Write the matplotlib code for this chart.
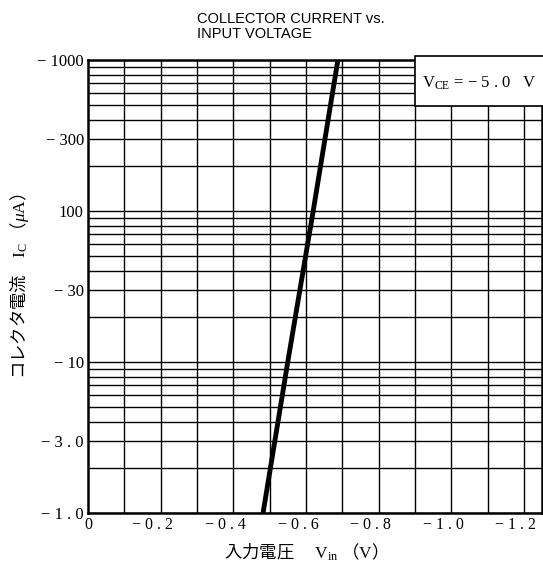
import numpy as np
import matplotlib
matplotlib.use("Agg")
import matplotlib.pyplot as plt
from matplotlib.patches import Rectangle
from matplotlib.transforms import ScaledTranslation

# Data
vin = [-0.482, -0.55, -0.62, -0.688]          # V
ic = [-1.0, -10.0, -100.0, -1000.0]            # uA
xticks = [0, -0.2, -0.4, -0.6, -0.8, -1.0, -1.2]
xticklabels = ["0", "− 0 . 2", "− 0 . 4", "− 0 . 6", "− 0 . 8", "− 1 . 0", "− 1 . 2"]
yticks = [1, 3, 10, 30, 100, 300, 1000]
yticklabels = ["− 1 . 0", "− 3 . 0", "− 10", "− 30", "100", "− 300", "− 1000"]

plt.rcParams["mathtext.fontset"] = "custom"
plt.rcParams["mathtext.rm"] = "Liberation Serif"
plt.rcParams["mathtext.it"] = "Liberation Serif:italic"
plt.rcParams["mathtext.bf"] = "Liberation Serif:bold"

serif = ["Liberation Serif", "DejaVu Serif"]
cjk = ["Noto Sans CJK JP", "Liberation Serif", "DejaVu Sans"]

fig = plt.figure(figsize=(5.43, 5.65), dpi=100)
ax = fig.add_axes([88/543, 52/565, 454/543, 453/565])

ax.set_yscale("log")
ax.set_xlim(0, -1.25)
ax.set_ylim(1, 1000)

# grid: verticals every 0.1 V, horizontals at 1..9 each decade
for xv in np.arange(1, 13) * -0.1:
    ax.axvline(xv, color="black", lw=1.0, zorder=1)
for dec in [1, 10, 100]:
    for m in range(1, 10):
        ax.axhline(dec * m, color="black", lw=1.0, zorder=1)

ax.plot(vin, [-v for v in ic], color="black", lw=3.5, solid_capstyle="butt", zorder=3)

ax.set_xticks(xticks)
ax.set_xticklabels(xticklabels, fontfamily=serif, fontsize=11.5)
ax.set_yticks(yticks)
ax.set_yticklabels(yticklabels, fontfamily=serif, fontsize=12)
ax.yaxis.set_minor_locator(matplotlib.ticker.NullLocator())
ax.tick_params(axis="both", which="both", length=0, pad=3)

# minus signs hang to the left of the tick position
shift = ScaledTranslation(-8/100, 0, fig.dpi_scale_trans)
for lab in ax.get_xticklabels()[1:]:
    lab.set_transform(lab.get_transform() + shift)

for s in ax.spines.values():
    s.set_linewidth(1.8)
    s.set_zorder(4)

# condition box
ax.add_patch(Rectangle((0.72, 0.898), 0.30, 0.11, transform=ax.transAxes,
                       facecolor="white", edgecolor="black", lw=1.2, zorder=5,
                       clip_on=False))
ax.text(0.862, 0.948, r"V$_{\rm CE}$ = − 5 . 0   V", transform=ax.transAxes,
        ha="center", va="center", fontsize=12, fontfamily=serif, zorder=6)

fig.text(197/543, 1 - 12/565, "COLLECTOR CURRENT vs.\nINPUT VOLTAGE",
         ha="left", va="top", fontsize=10.5, fontfamily=["Liberation Sans"],
         linespacing=1.05)

ax.set_xlabel("入力電圧　 $\\rm V_{in}$ （$\\rm V$）", fontfamily=cjk, fontsize=12.5,
              labelpad=6, x=0.47)
ax.set_ylabel("コレクタ電流　$\\rm I_C$ （$\\mu\\rm A$）", fontfamily=cjk, fontsize=12.5)
ax.yaxis.set_label_coords(-0.125, 0.5)

fig.savefig("out.png", dpi=100)
